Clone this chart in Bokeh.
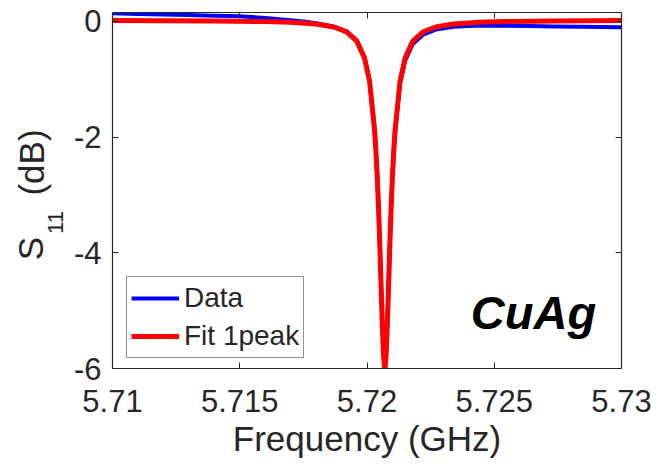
import math
from bokeh.plotting import figure
from bokeh.layouts import row
from bokeh.models import Range1d, FixedTicker, LinearAxis, Legend, LegendItem, Label
from bokeh.core.properties import value
from bokeh.embed import file_html
from bokeh.resources import INLINE

# ---- data ----
freq_data = [5.7100, 5.7110, 5.7120, 5.7130, 5.7140, 5.7150, 5.7160, 5.7170, 5.7175, 5.7180,
             5.7187, 5.7192, 5.7196, 5.7199, 5.7201, 5.7203, 5.72035, 5.7204, 5.72045, 5.7205,
             5.72055, 5.7206, 5.72065, 5.7207, 5.72075, 5.7208, 5.72085, 5.7209, 5.72095, 5.7210,
             5.72105, 5.7211, 5.7213, 5.7215, 5.7218, 5.7222, 5.7227, 5.7234, 5.7244, 5.7254,
             5.7264, 5.7274, 5.7284, 5.7300]
s11_data = [0.14, 0.13, 0.12, 0.11, 0.10, 0.09, 0.06, 0.02, 0.00, -0.03,
            -0.09, -0.17, -0.33, -0.62, -1.02, -1.87, -2.22, -2.64, -3.16, -3.78,
            -4.48, -5.15, -5.70, -5.95, -5.72, -5.20, -4.52, -3.83, -3.21, -2.70,
            -2.27, -1.93, -1.07, -0.68, -0.39, -0.23, -0.14, -0.09, -0.07, -0.075,
            -0.08, -0.085, -0.09, -0.10]

freq_fit = [5.7100, 5.7120, 5.7140, 5.7160, 5.7170, 5.7180, 5.7187, 5.7192, 5.7196, 5.7199,
            5.7201, 5.7203, 5.72035, 5.7204, 5.72045, 5.7205, 5.72055, 5.7206, 5.72065, 5.7207,
            5.72075, 5.7208, 5.72085, 5.7209, 5.72095, 5.7210, 5.72105, 5.7211, 5.7213, 5.7215,
            5.7218, 5.7222, 5.7227, 5.7234, 5.7244, 5.7254, 5.7274, 5.7300]
s11_fit = [0.016, 0.014, 0.010, -0.001, -0.014, -0.044, -0.095, -0.18, -0.34, -0.63,
           -1.03, -1.89, -2.24, -2.67, -3.19, -3.82, -4.53, -5.23, -5.78, -6.05,
           -5.78, -5.23, -4.53, -3.82, -3.19, -2.67, -2.24, -1.89, -1.03, -0.63,
           -0.34, -0.18, -0.095, -0.044, -0.014, -0.001, 0.010, 0.015]

x_ticks = [5.71, 5.715, 5.72, 5.725, 5.73]
x_tick_labels = ["5.71", "5.715", "5.72", "5.725", "5.73"]
y_ticks = [-6, -4, -2, 0]
y_tick_labels = ["-6", "-4", "-2", "0"]
series_names = ["Data", "Fit 1peak"]
sample_name = "CuAg"
x_title = "Frequency (GHz)"
y_title_parts = ["S", "11", "(dB)"]

FONT = "Liberation Sans"
AX = "#262626"
H = 467
LEFT_W = 70
Y_MIN, Y_MAX = -6, 0.155
FRAME_TOP, FRAME_BOTTOM = 12, 368

y_range = Range1d(Y_MIN, Y_MAX)

# ---- narrow strip holding the rotated y-axis title (with a real subscript) ----
# its frame is aligned with the main plot's frame by the row layout, so it shares the y range
ttl = figure(width=LEFT_W, height=H, output_backend="svg", toolbar_location=None,
             x_range=Range1d(0, LEFT_W), y_range=y_range,
             x_axis_location=None, y_axis_location=None,
             min_border_left=0, min_border_right=0,
             min_border_top=FRAME_TOP, min_border_bottom=H - FRAME_BOTTOM)
ttl.grid.visible = False
ttl.outline_line_color = None
ttl.border_fill_color = "white"
ttl.background_fill_color = "white"

def canvas_to_y(cy):
    return Y_MAX - (cy - FRAME_TOP) * (Y_MAX - Y_MIN) / (FRAME_BOTTOM - FRAME_TOP)

# (centre x, centre y from top of page, font size) for each piece of the title
title_pos = [(30, 248, "35px"), (55, 222, "22px"), (31, 162, "35px")]
for (cx, cy, fs), txt in zip(title_pos, y_title_parts):
    ttl.text(x=[cx], y=[canvas_to_y(cy)], text=[txt], angle=math.pi / 2,
             text_font=value(FONT), text_font_size=fs, text_color=AX,
             text_align="center", text_baseline="middle")

# ---- main chart ----
p = figure(width=656 - LEFT_W, height=H, output_backend="svg", toolbar_location=None,
           x_range=Range1d(5.71, 5.73), y_range=y_range,
           min_border_left=112 - LEFT_W, min_border_right=35,
           min_border_top=FRAME_TOP, min_border_bottom=H - FRAME_BOTTOM)
p.grid.visible = False
p.outline_line_color = None
p.background_fill_color = "white"
p.border_fill_color = "white"

def style_axis(ax, ticks, labels, show_labels=True):
    ax.ticker = FixedTicker(ticks=ticks)
    ax.major_label_overrides = {t: l for t, l in zip(ticks, labels)}
    ax.axis_line_color = AX
    ax.axis_line_width = 1.2
    ax.major_tick_line_color = AX
    ax.major_tick_in = 6
    ax.major_tick_out = 0
    ax.minor_tick_line_color = None
    ax.major_label_text_font = FONT
    ax.major_label_text_font_size = "31px"
    if show_labels:
        ax.major_label_text_color = AX
    else:
        ax.major_label_text_color = None
        ax.major_label_text_alpha = 0
        ax.major_label_standoff = 0

style_axis(p.xaxis[0], x_ticks, x_tick_labels)
style_axis(p.yaxis[0], y_ticks, y_tick_labels)
p.xaxis[0].major_label_standoff = 21
p.yaxis[0].major_label_standoff = 11

p.xaxis[0].axis_label = x_title
p.xaxis[0].axis_label_text_font = FONT
p.xaxis[0].axis_label_text_font_size = "35px"
p.xaxis[0].axis_label_text_font_style = "normal"
p.xaxis[0].axis_label_text_color = AX
p.xaxis[0].axis_label_standoff = 4

top_ax = LinearAxis()
style_axis(top_ax, x_ticks, x_tick_labels, show_labels=False)
p.add_layout(top_ax, "above")
right_ax = LinearAxis()
style_axis(right_ax, y_ticks, y_tick_labels, show_labels=False)
p.add_layout(right_ax, "right")

r_data = p.line(freq_data, s11_data, line_color="#0000ff", line_width=4)
r_fit = p.line(freq_fit, s11_fit, line_color="#ff0000", line_width=5)

legend = Legend(items=[LegendItem(label=series_names[0], renderers=[r_data]),
                       LegendItem(label=series_names[1], renderers=[r_fit])],
                location=(14, 10), orientation="vertical",
                label_text_font=FONT, label_text_font_size="28px", label_text_color=AX,
                glyph_width=48, glyph_height=34, label_height=34, label_standoff=5,
                spacing=4, padding=4, margin=0,
                border_line_color=AX, border_line_width=1,
                background_fill_color="white", background_fill_alpha=1)
p.add_layout(legend)

p.add_layout(Label(x=5.72408, y=-5.03, text=sample_name, text_font=FONT,
                   text_font_style="bold italic", text_font_size="47px",
                   text_color="black", text_baseline="alphabetic"))

layout = row(ttl, p, spacing=0)
open("out.html", "w").write(file_html(layout, INLINE))
